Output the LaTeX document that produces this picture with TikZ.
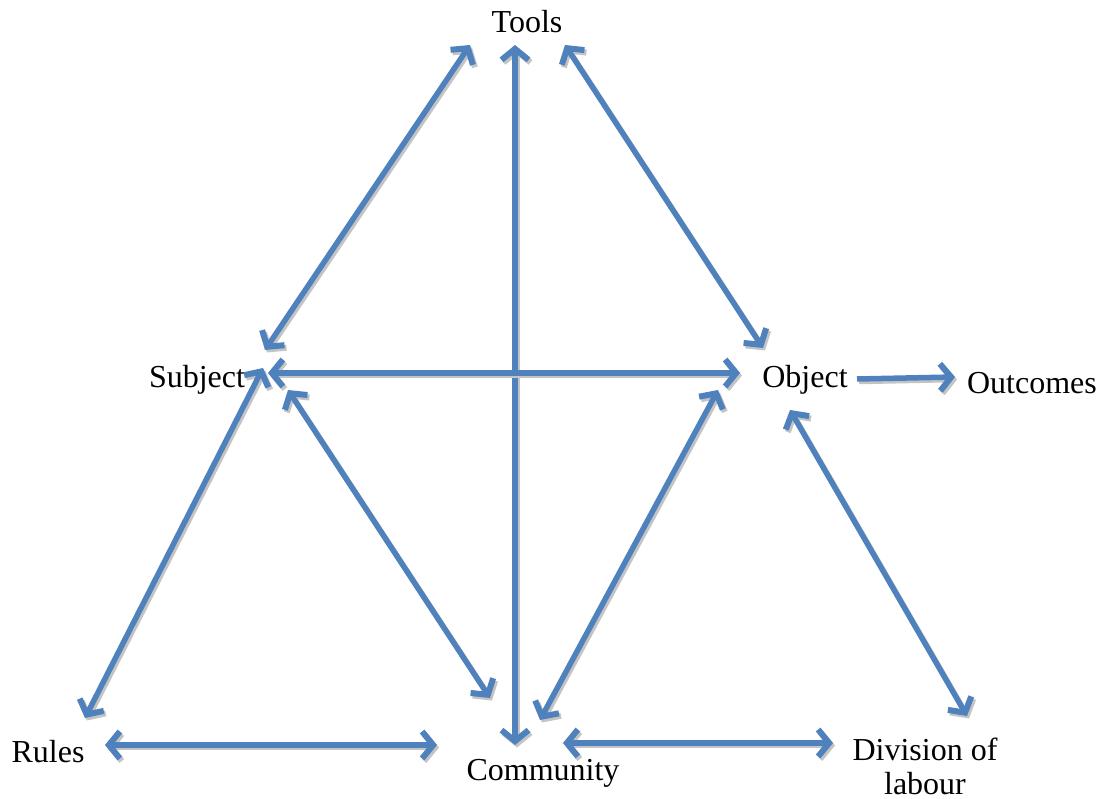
\documentclass[tikz,border=0pt]{standalone}
\usepackage{fontspec}
\setmainfont{Liberation Serif}
\usetikzlibrary{arrows.meta}
\definecolor{linkblue}{RGB}{79,129,189}
\definecolor{linkshade}{RGB}{196,196,196}
\tikzset{
  label/.style={font=\fontsize{32}{34}\selectfont, inner sep=0pt, align=center},
  barb/.tip={Straight Barb[length=11pt,width=27pt,line width=6pt]},
  link/.style={line width=5.5pt, draw=linkblue, barb-barb},
  onelink/.style={line width=5.5pt, draw=linkblue, -barb},
  shade/.style={draw=linkshade, transform canvas={shift={(2pt,-2.5pt)}}}
}
% arrow with its grey shadow
\newcommand\linkarrow[3][link]{%
  \draw[#1,shade] #2 -- #3;
  \draw[#1] #2 -- #3;
}
\begin{document}
\begin{tikzpicture}[x=1pt,y=-1pt]
  \useasboundingbox (0,0) rectangle (1103,799);

  % the six corners
  \node[label] (tools) at (527,22) {Tools};
  \node[label] (subject) at (197,380) {Subject};
  \node[label] (object) at (805,380) {Object};
  \node[label] (outcomes) at (1032,383) {Outcomes};
  \node[label] (rules) at (48,752) {Rules};
  \node[label] (community) at (543,773) {Community};
  \node[label] (division) at (925,766) {Division of\\labour};

  % upper triangle
  \linkarrow{([shift={(-57,23)}]tools.center)}{([shift={(68,-30)}]subject.center)}
  \linkarrow{([shift={(-12,23)}]tools.center)}{([shift={(-28,-28)}]community.center)}
  \linkarrow{([shift={(38,23)}]tools.center)}{([shift={(-42,-32)}]object.center)}
  \linkarrow{([shift={(71,-7)}]subject.center)}{([shift={(-65,-7)}]object.center)}
  \linkarrow[onelink]{([shift={(52,-1)}]object.center)}{([shift={(-77,-6)}]outcomes.center)}

  % lower triangles
  \linkarrow{([shift={(66,-12)}]subject.center)}{([shift={(37,-34)}]rules.center)}
  \linkarrow{([shift={(91,10)}]subject.center)}{([shift={(-53,-75)}]community.center)}
  \linkarrow{([shift={(-87,10)}]object.center)}{([shift={(-3,-53)}]community.center)}
  \linkarrow{([shift={(-15,30)}]object.center)}{([shift={(42,-50)}]division.center)}
  \linkarrow{([shift={(57,-7)}]rules.center)}{([shift={(-106,-28)}]community.center)}
  \linkarrow{([shift={(20,-30)}]community.center)}{([shift={(-92,-23)}]division.center)}
\end{tikzpicture}
\end{document}
